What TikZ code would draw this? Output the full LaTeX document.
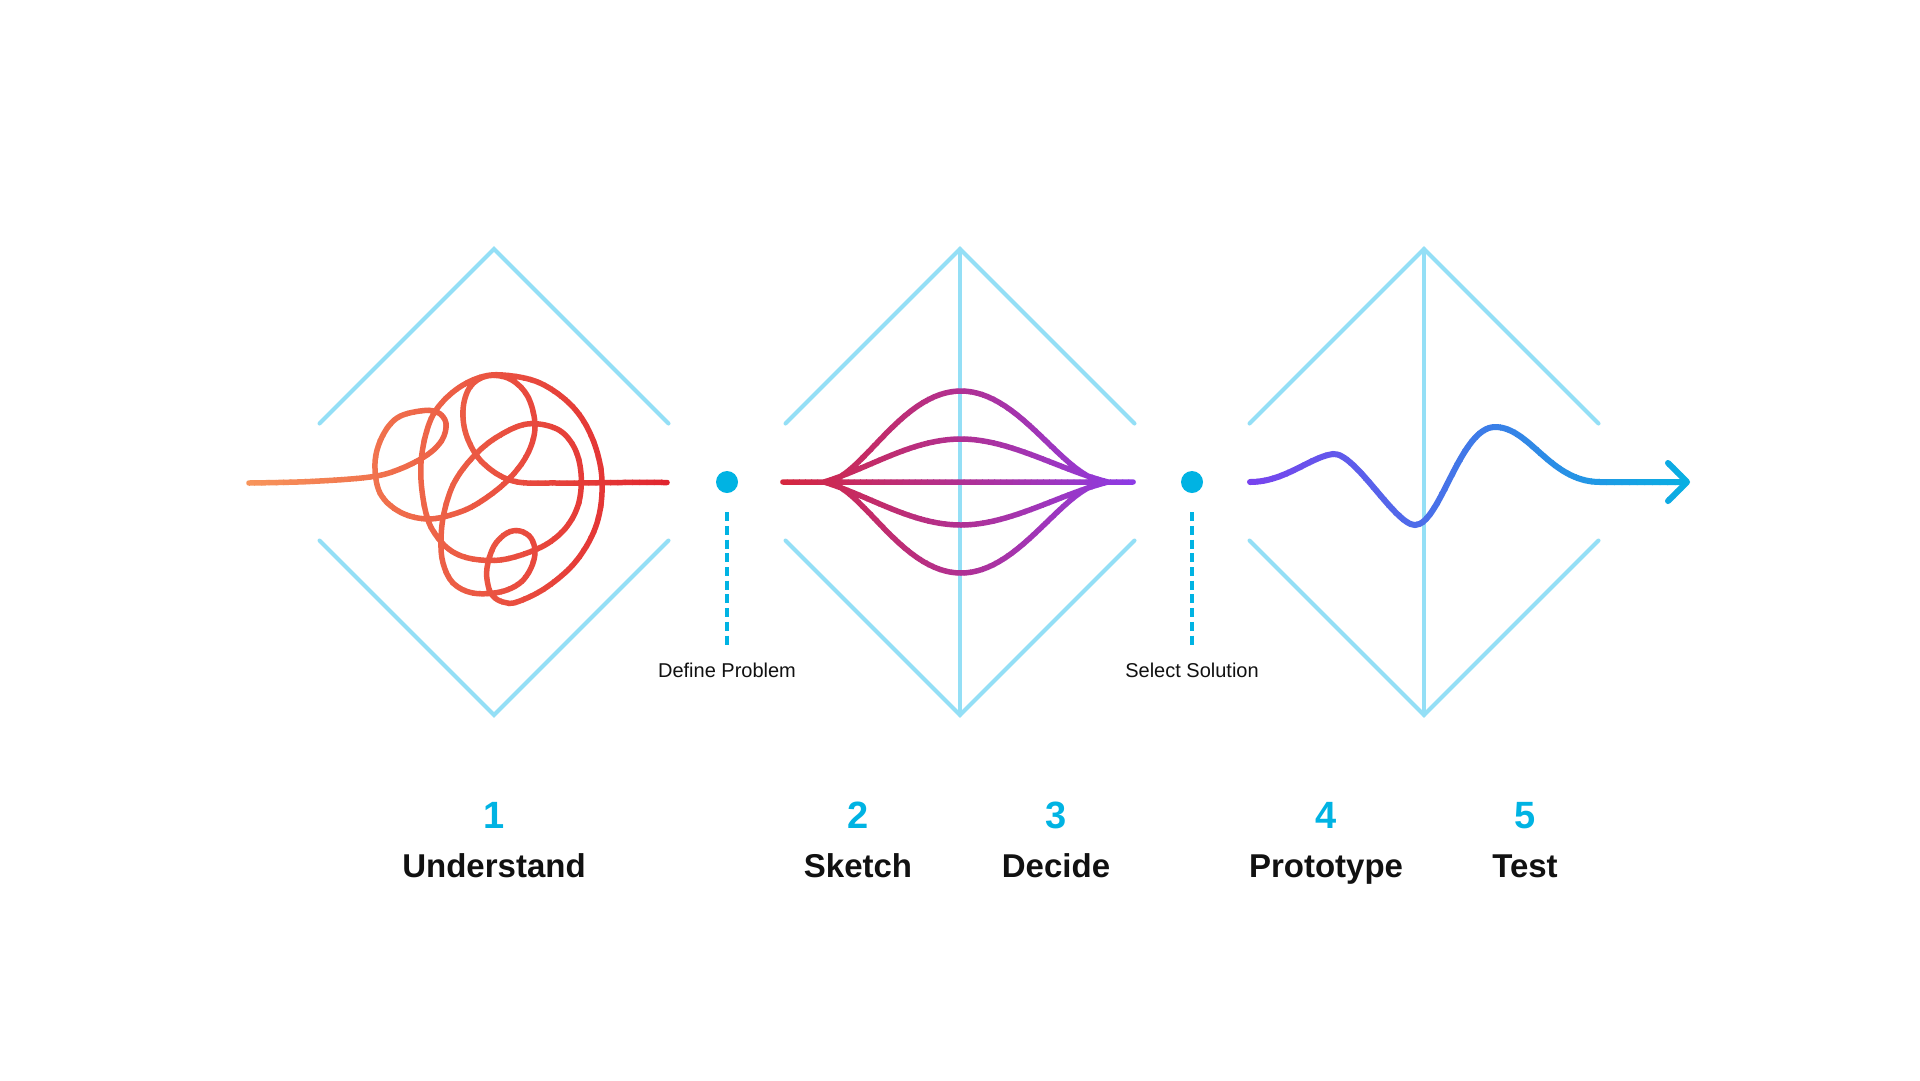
\documentclass[tikz,border=0pt]{standalone}
\usepackage{fontspec}
\setmainfont{Liberation Sans}
\usetikzlibrary{arrows.meta}
\definecolor{FrameCyan}{HTML}{94DFF6}
\definecolor{MarkCyan}{HTML}{00B3E3}
\definecolor{ScribOrange}{HTML}{F8975C}
\definecolor{ScribRed}{HTML}{E0232E}
\definecolor{LensRed}{HTML}{D7263A}
\definecolor{LensPurple}{HTML}{8B3BE8}
\definecolor{WavePurple}{HTML}{7A41EE}
\definecolor{WaveCyan}{HTML}{06B1E2}
\definecolor{TextBlack}{HTML}{111111}

% stroke a path with a left-to-right colour ramp, strip by strip
\newcommand{\gradstroke}[6]{%
  \foreach \k in {0,...,59}{%
    \pgfmathsetmacro{\xa}{#1+(#2-#1)/60*\k-0.4}%
    \pgfmathsetmacro{\xb}{#1+(#2-#1)/60*(\k+1)+0.4}%
    \pgfmathtruncatemacro{\mix}{100-round(100*(\k+0.5)/60)}%
    \begin{scope}
      \clip (\xa,-5) rectangle (\xb,1085);
      \draw[#5,color=#3!\mix!#4] #6;
    \end{scope}
  }%
}

\begin{document}
\begin{tikzpicture}[x=1pt,y=-1pt,
    frame/.style={draw=FrameCyan,line width=4pt,line cap=round},
    dot/.style={circle,fill=MarkCyan,minimum size=22pt,inner sep=0pt},
    dashline/.style={draw=MarkCyan,line width=4pt,dash pattern=on 9pt off 4.7pt},
    milestone/.style={font=\fontsize{20}{24}\selectfont,text=TextBlack,anchor=base,inner sep=0pt},
    stepnum/.style={font=\fontsize{38}{44}\selectfont\bfseries,text=MarkCyan,anchor=base,inner sep=0pt},
    steplabel/.style={font=\fontsize{33}{40}\selectfont\bfseries,text=TextBlack,anchor=base,inner sep=0pt},
    scribble/.style={line width=5.5pt,line cap=round,line join=round},
    lens/.style={line width=5.5pt,line cap=round,line join=round},
    wave/.style={line width=6pt,line cap=round,-{Straight Barb[length=19pt,width=38pt,round]}}
  ]
  \fill[white] (0,0) rectangle (1920,1080);
  \useasboundingbox (0,0) rectangle (1920,1080);

  % diamonds
  \foreach \cx in {494,960,1424}{
    \draw[frame] (\cx-174.5,423.5) -- (\cx,249) -- (\cx+174.5,423.5);
    \draw[frame] (\cx-174.5,540.5) -- (\cx,715) -- (\cx+174.5,540.5);
  }
  \foreach \cx in {960,1424} \draw[frame] (\cx,249) -- (\cx,715);

  % tangle
  \gradstroke{240}{676}{ScribOrange}{ScribRed}{scribble}{
    plot[smooth,tension=0.6] coordinates {(249,483) (310,481.5) (370,477) (400,469) (427,455)
      (442,440) (446,423) (437,412) (420,411) (397,418) (382,437) (375,463) (380,493)
      (400,512) (428,519) (457,513) (480,502) (507,481) (527,455) (535,427) (528,397)
      (510,379) (487,376) (470,387) (463,410) (467,437) (483,463) (513,481) (557,483)
      (620,482.5) (667,482.5)}
    plot[smooth cycle,tension=0.6] coordinates {(503,375) (540,383) (573,407) (593,440)
      (602,480) (597,523) (577,560) (547,587) (517,602) (503,602) (493,596) (488,585)
      (487,568) (494,546) (507,533) (520,531) (531,538) (535,552) (531,568) (520,583)
      (500,592) (473,593) (453,583) (443,563) (441,540) (444,513) (454,483) (473,457)
      (497,437) (527,424) (557,429) (574,447) (581,473) (579,502) (568,525) (550,542)
      (527,553) (500,560) (473,559) (453,552) (438,538) (427,517) (421,480) (423,447)
      (433,415) (453,392) (478,378)}}

  % options
  \gradstroke{775}{1141}{LensRed}{LensPurple}{lens}{
    (783,482) -- (1133,482)
    (824,482) .. controls (860,482) and (900,391) .. (961,391)
      .. controls (1022,391) and (1065,482) .. (1108,482)
    (824,482) .. controls (860,482) and (900,573) .. (961,573)
      .. controls (1022,573) and (1065,482) .. (1108,482)
    (824,482) .. controls (870,468) and (912,439) .. (961,439)
      .. controls (1010,439) and (1060,470) .. (1108,482)
    (824,482) .. controls (870,496) and (912,525) .. (961,525)
      .. controls (1010,525) and (1060,494) .. (1108,482)}

  % test wave
  \gradstroke{1242}{1698}{WavePurple}{WaveCyan}{wave}{
    (1250,482) .. controls (1285,482) and (1310,457) .. (1333,454)
      .. controls (1355,452) and (1395,525) .. (1415,525)
      .. controls (1440,525) and (1460,427) .. (1495,427)
      .. controls (1530,427) and (1550,482) .. (1600,482) -- (1690,482)}

  % milestones
  \node[dot] (define) at (727,482) {};
  \node[milestone] (definetext) at (727,677) {Define Problem};
  \draw[dashline] ([yshift=-19pt]define.south) -- ([yshift=14pt]definetext.north);
  \node[dot] (select) at (1192,482) {};
  \node[milestone] (selecttext) at (1192,677) {Select Solution};
  \draw[dashline] ([yshift=-19pt]select.south) -- ([yshift=14pt]selecttext.north);

  % steps
  \node[stepnum] (n1) at (494,828) {1};
  \node[steplabel] (understand) at (494,877) {Understand};
  \node[stepnum] (n2) at (858,828) {2};
  \node[steplabel] (sketch) at (858,877) {Sketch};
  \node[stepnum] (n3) at (1056,828) {3};
  \node[steplabel] (decide) at (1056,877) {Decide};
  \node[stepnum] (n4) at (1326,828) {4};
  \node[steplabel] (prototype) at (1326,877) {Prototype};
  \node[stepnum] (n5) at (1525,828) {5};
  \node[steplabel] (test) at (1525,877) {Test};
\end{tikzpicture}
\end{document}
